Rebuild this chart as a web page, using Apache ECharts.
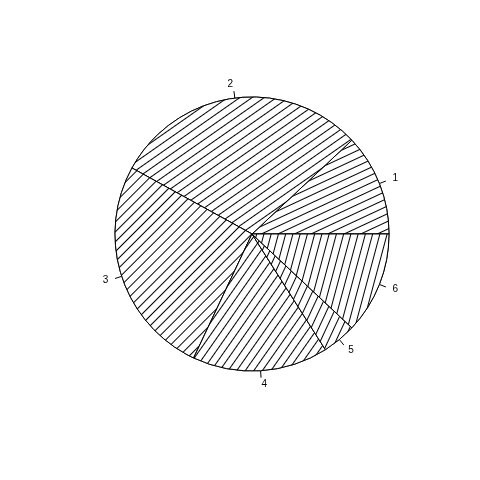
<!DOCTYPE html>
<html><head><meta charset="utf-8">
<script src="https://cdn.jsdelivr.net/npm/echarts@6/dist/echarts.min.js"></script>
<style>html,body{margin:0;padding:0;background:#fff}#c{width:480px;height:480px}</style>
</head><body><div id="c"></div>
<script>
const categories = ['1', '2', '3', '4', '5', '6'];
const values = [0.12, 0.30, 0.26, 0.16, 0.04, 0.12];
const hatchAngles = [25, 35, 45, 55, 65, 75];

const chart = echarts.init(document.getElementById('c'), null, {renderer: 'canvas'});
const data = categories.map((c, i) => ({
  name: c,
  value: values[i],
  itemStyle: {
    color: '#fff',
    decal: {
      symbol: 'rect',
      symbolSize: 1,
      dashArrayX: [10, 0],
      dashArrayY: [1, 6],
      rotation: -hatchAngles[i] * Math.PI / 180,
      color: '#000',
      backgroundColor: '#fff'
    }
  }
}));
chart.setOption({
  backgroundColor: '#fff',
  animation: false,
  aria: {enabled: true, decal: {show: true}},
  series: [{
    type: 'pie',
    center: [252, 234],
    radius: [0, 137],
    startAngle: 0,
    clockwise: false,
    avoidLabelOverlap: false,
    data: data,
    itemStyle: {borderColor: '#000', borderWidth: 1},
    label: {
      show: true,
      position: 'outside',
      color: '#000',
      fontSize: 10,
      fontFamily: 'Liberation Sans, Arial, sans-serif',
      distanceToLabelLine: 5
    },
    labelLine: {show: true, length: 7, length2: 0, lineStyle: {color: '#000', width: 1}},
    labelLayout: function (p) {
      const pts = p.labelLinePoints;
      if (!pts) return {};
      const p0 = pts[0], p1 = pts[1];
      const dx = p1[0] - p0[0], dy = p1[1] - p0[1];
      return {
        x: p0[0] + dx * 2,
        y: p0[1] + dy * 2,
        align: dx >= 0 ? 'left' : 'right',
        verticalAlign: 'middle',
        labelLinePoints: [p0, p1, p1]
      };
    },
    emphasis: {disabled: true}
  }]
});
</script></body></html>
